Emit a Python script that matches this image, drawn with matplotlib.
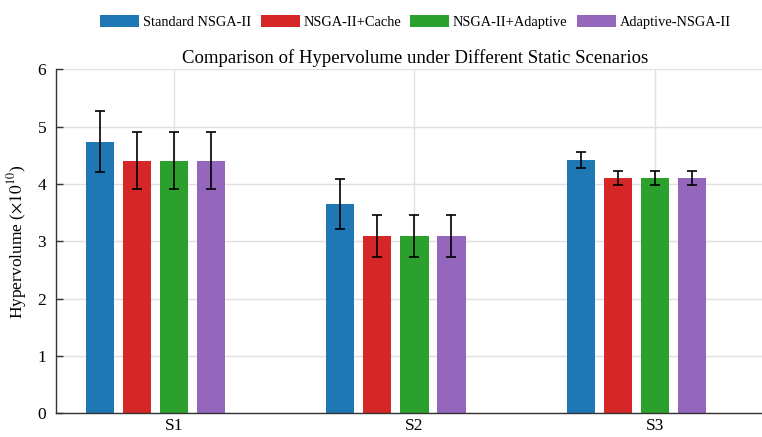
import matplotlib
matplotlib.use("Agg")
import matplotlib.pyplot as plt
import numpy as np

plt.rcParams["font.family"] = ["Liberation Serif", "DejaVu Serif"]
plt.rcParams["mathtext.fontset"] = "stix"

scenarios = ["S1", "S2", "S3"]
methods = ["Standard NSGA-II", "NSGA-II+Cache", "NSGA-II+Adaptive", "Adaptive-NSGA-II"]
colors = ["#1f77b4", "#d62728", "#2ca02c", "#9467bd"]

# mean hypervolume (x1e10) per method, one value per scenario
hv_standard = [4.74, 3.65, 4.42]
hv_cache = [4.41, 3.10, 4.11]
hv_adaptive = [4.41, 3.10, 4.11]
hv_adaptive_nsga = [4.41, 3.10, 4.11]

# standard deviations
sd_standard = [0.53, 0.44, 0.14]
sd_cache = [0.50, 0.37, 0.125]
sd_adaptive = [0.50, 0.37, 0.125]
sd_adaptive_nsga = [0.50, 0.37, 0.125]

means = [hv_standard, hv_cache, hv_adaptive, hv_adaptive_nsga]
stds = [sd_standard, sd_cache, sd_adaptive, sd_adaptive_nsga]

fig = plt.figure(figsize=(7.62, 4.37), dpi=100)
ax = fig.add_axes([0.0735, 0.054, 0.9436, 0.787])

x = np.arange(len(scenarios))
step = 0.154
width = 0.118
for i, (m, s, c, lab) in enumerate(zip(means, stds, colors, methods)):
    ax.bar(x + (i - 2) * step, m, width, color=c, label=lab, zorder=2,
           yerr=s, capsize=3.5,
           error_kw=dict(ecolor="black", elinewidth=1.2, capthick=1.2, zorder=3))

ax.set_xlim(-0.49, 2.5)
ax.set_ylim(0, 6)
ax.set_xticks(x)
ax.set_xticklabels(scenarios)
ax.set_yticks(range(0, 7))
ax.tick_params(direction="in", length=5, width=1, labelsize=12.5, color="#333333")
ax.tick_params(axis="y", pad=7)
ax.tick_params(axis="x", pad=3.5)
ax.grid(True, color="#e0e0e0", linewidth=1, zorder=0)
ax.set_axisbelow(True)
for side in ["top", "right"]:
    ax.spines[side].set_visible(False)
for side in ["left", "bottom"]:
    ax.spines[side].set_color("#333333")
    ax.spines[side].set_linewidth(1)

ax.set_ylabel(r"Hypervolume ($\times 10^{10}$)", fontsize=12.5)
ax.yaxis.set_label_coords(-0.037, 0.5)
ax.set_title("Comparison of Hypervolume under Different Static Scenarios",
             fontsize=13.5, pad=5)

ax.legend(loc="center", bbox_to_anchor=(0.5, 1.137), ncol=4, frameon=False,
          fontsize=10.4, handlelength=2.7, handleheight=0.85, handletextpad=0.25,
          columnspacing=0.65, borderaxespad=0)

fig.savefig("out.png", dpi=100)
